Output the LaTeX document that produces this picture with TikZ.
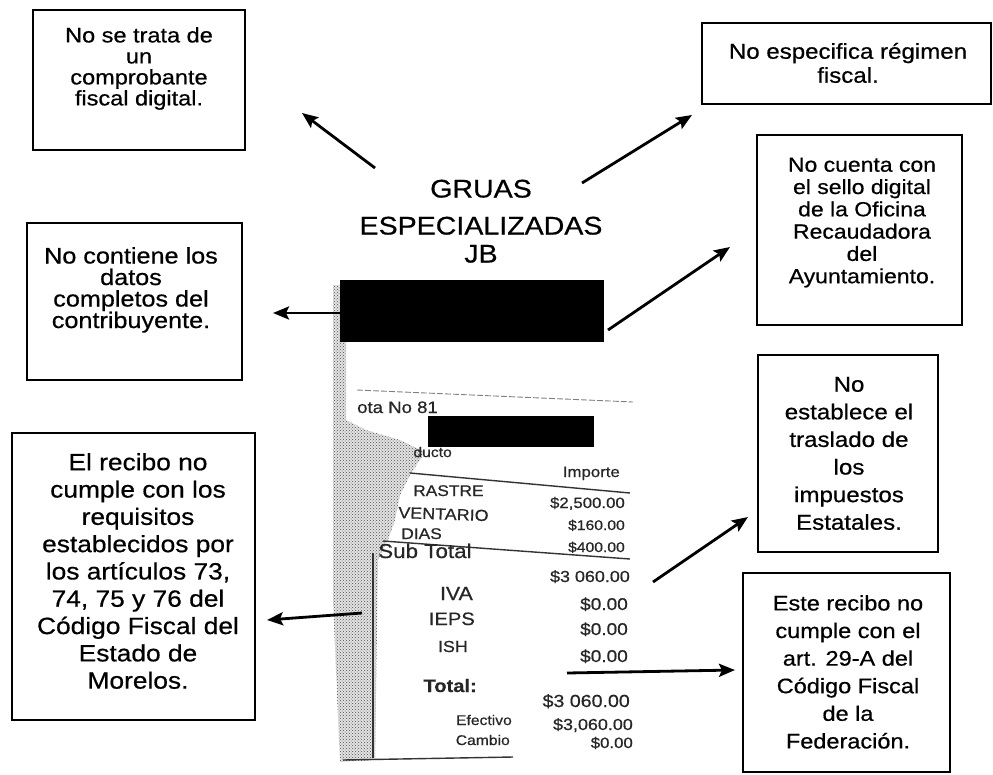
\documentclass[tikz,border=0pt]{standalone}
\usepackage{fontspec}
\setmainfont{Liberation Sans}[FakeStretch=1.12,FakeBold=0.6]
\usetikzlibrary{arrows.meta,patterns}
\begin{document}
\begin{tikzpicture}[x=1pt,y=-1pt,
  bx/.style 2 args={draw,line width=1.5pt,inner sep=0pt,minimum width=#1pt,minimum height=#2pt},
  txt/.style 2 args={align=center,inner sep=0pt,anchor=north,font=\fontsize{#1pt}{#2pt}\selectfont},
  rt/.style={inner sep=0pt,text=black!85,font=\fontsize{#1pt}{#1pt}\selectfont},
  rtb/.style={inner sep=0pt,text=black!85,font=\fontsize{#1pt}{#1pt}\selectfont\bfseries},
  arr/.style={line width=2.8pt,-{Stealth[length=16pt,width=13pt,inset=3pt]}},
  rl/.style={line width=1.4pt,black!80}
]
\useasboundingbox (0,0) rectangle (993,774);

% ---------- receipt ----------
\fill[gray!22]
  (333,285) -- (346,285) -- (346,420) -- (366,430) -- (400,440) -- (425,452)
  -- (410,475) -- (400,495) -- (395,520) -- (388,540) -- (378,560)
  -- (375,760) -- (340,762) -- (333,600) -- cycle;
\fill[pattern=crosshatch dots,pattern color=black!70]
  (333,285) -- (346,285) -- (346,420) -- (366,430) -- (400,440) -- (425,452)
  -- (410,475) -- (400,495) -- (395,520) -- (388,540) -- (378,560)
  -- (375,760) -- (340,762) -- (333,600) -- cycle;
\draw[rl,line width=1.2pt] (373,553) -- (373,758);
\node[txt={25.5}{28}] (head) at (481,179.5) {GRUAS\\[9pt]ESPECIALIZADAS\\JB};
\fill (340,280) rectangle (604,342);
\draw[gray,line width=0.9pt,dash pattern=on 6pt off 2pt] (357,390) -- (633,402);
\node[rt=16.6,anchor=base west] (nota) at (357,413) {ota No 81};
\fill (428,416) rectangle (594,447);
\node[rt=14,anchor=base east] (prod) at (452,457) {ducto};
\node[rt=15,anchor=base east] (imp) at (620,477) {Importe};
\draw[rl] (410,473) -- (630,493);
\node[rt=15.5,anchor=base west] (arrastre) at (413,496) {RASTRE};
\node[rt=16,anchor=base west,rotate=-2] (invent) at (398,518) {VENTARIO};
\node[rt=15.5,anchor=base east] (dias) at (442,539) {DIAS};
\node[rt=15,anchor=base east] (v1) at (625,508) {\$2,500.00};
\node[rt=14,anchor=base east] (v2) at (625,530) {\$160.00};
\node[rt=14,anchor=base east] (v3) at (625,552) {\$400.00};
\draw[rl] (383,541) -- (630,559);
\node[rt=20,anchor=base west] (subt) at (378,558) {Sub Total};
\node[rt=16,anchor=base east] (v4) at (630,582) {\$3 060.00};
\node[rt=19,anchor=base east] (iva) at (473,600) {IVA};
\node[rt=17,anchor=base east] (v5) at (628,610) {\$0.00};
\node[rt=18,anchor=base east] (ieps) at (475,625) {IEPS};
\node[rt=17,anchor=base east] (v6) at (628,635) {\$0.00};
\node[rt=16,anchor=base east] (ish) at (468,652) {ISH};
\node[rt=17,anchor=base east] (v7) at (628,662) {\$0.00};
\node[rtb=18,anchor=base east] (total) at (477,692) {Total:};
\node[rt=17.5,anchor=base east] (v8) at (630,707) {\$3 060.00};
\node[rt=14,anchor=base east] (efec) at (512,725) {Efectivo};
\node[rt=16,anchor=base east] (v9) at (633,730) {\$3,060.00};
\node[rt=14,anchor=base east] (camb) at (510,745) {Cambio};
\node[rt=15,anchor=base east] (v10) at (633,748) {\$0.00};
\draw[rl] (343,760) -- (513,757);

% ---------- boxes ----------
\node[bx={212}{140}] (b1) at (139,80) {};
\node[txt={21}{21}] (t1) at (139,27) {No se trata de\\un\\comprobante\\fiscal digital.};

\node[bx={289}{81}] (b2) at (846.5,63.5) {};
\node[txt={21.5}{24}] (t2) at (848,42.7) {No especifica régimen\\fiscal.};

\node[bx={205}{190}] (b3) at (859.5,230) {};
\node[txt={20.5}{22.3}] (t3) at (862,157.4) {No cuenta con\\el sello digital\\de la Oficina\\Recaudadora\\del\\Ayuntamiento.};

\node[bx={215}{157}] (b4) at (134.5,301.5) {};
\node[txt={22.5}{21.5}] (t4) at (131,247) {No contiene los\\datos\\completos del\\contribuyente.};

\node[bx={243}{287}] (b5) at (133.5,576.5) {};
\node[txt={23.5}{27.3}] (t5) at (138,453) {El recibo no\\cumple con los\\requisitos\\establecidos por\\los artículos 73,\\74, 75 y 76 del\\Código Fiscal del\\Estado de\\Morelos.};

\node[bx={180}{197}] (b6) at (848,453.5) {};
\node[txt={21.5}{27.6}] (t6) at (849,376.7) {No\\establece el\\traslado de\\los\\impuestos\\Estatales.};

\node[bx={207}{199}] (b7) at (846.5,672.5) {};
\node[txt={21}{27.6}] (t7) at (848,595) {Este recibo no\\cumple con el\\art. 29-A del\\Código Fiscal\\de la\\Federación.};

% ---------- arrows ----------
\coordinate (s1) at (375,168); \coordinate (e1) at (302,113);
\coordinate (s2) at (582,183); \coordinate (e2) at (692,115);
\coordinate (s3) at (608,330); \coordinate (e3) at (730,247);
\coordinate (s4) at (342,313); \coordinate (e4) at (273,313);
\coordinate (s5) at (362,613); \coordinate (e5) at (267,620);
\coordinate (s6) at (653,582); \coordinate (e6) at (748,517);
\coordinate (s7) at (567,673); \coordinate (e7) at (735,670);
\foreach \i in {1,...,7} { \draw[arr] (s\i) -- (e\i); }
\end{tikzpicture}
\end{document}
